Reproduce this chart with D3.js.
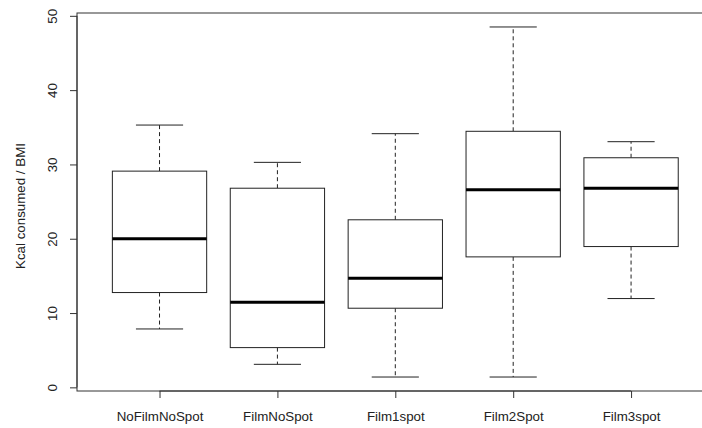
<!DOCTYPE html>
<html>
<head>
<meta charset="utf-8">
<script src="https://cdn.jsdelivr.net/npm/d3@7/dist/d3.min.js"></script>
<style>
  html, body { margin: 0; padding: 0; background: #fff; }
  svg { display: block; }
  text { font-family: "Liberation Sans", Arial, sans-serif; font-size: 13.33px; fill: #222; }
</style>
</head>
<body>
<svg id="chart" width="702" height="428"></svg>
<script>
const categories   = ["NoFilmNoSpot", "FilmNoSpot", "Film1spot", "Film2Spot", "Film3spot"];
const lowerWhisker = [7.86, 3.1, 1.39, 1.39, 11.95];
const q1           = [12.76, 5.35, 10.65, 17.56, 18.95];
const median       = [20.0, 11.46, 14.69, 26.6, 26.8];
const q3           = [29.1, 26.8, 22.55, 34.46, 30.9];
const upperWhisker = [35.3, 30.28, 34.14, 48.5, 33.06];
const yTicks       = [0, 10, 20, 30, 40, 50];
const yLabel       = "Kcal consumed / BMI";

const svg = d3.select("#chart");
const mLeft = 77, mRight = 713.6, mTop = 13, mBottom = 391;
const FONT = "'Liberation Sans', Arial, sans-serif";

const x = d3.scaleLinear().domain([0.3, 5.7]).range([mLeft, mRight]);
const y = d3.scaleLinear().domain([-0.49, 50.38]).range([mBottom, mTop]);

const boxW = x(1.4) - x(1);   // half width of box (0.4 units)
const capW = boxW / 2;

const data = categories.map((c, i) => ({
  c, pos: i + 1, lw: lowerWhisker[i], q1: q1[i], med: median[i], q3: q3[i], uw: upperWhisker[i]
}));

const g = svg.append("g");

// whiskers (dashed)
g.selectAll(".wu").data(data).enter().append("line")
  .attr("x1", d => x(d.pos)).attr("x2", d => x(d.pos))
  .attr("y1", d => y(d.q3)).attr("y2", d => y(d.uw))
  .attr("stroke", "#222").attr("stroke-dasharray", "4,3");
g.selectAll(".wl").data(data).enter().append("line")
  .attr("x1", d => x(d.pos)).attr("x2", d => x(d.pos))
  .attr("y1", d => y(d.q1)).attr("y2", d => y(d.lw))
  .attr("stroke", "#222").attr("stroke-dasharray", "4,3");
// caps
g.selectAll(".cu").data(data).enter().append("line")
  .attr("x1", d => x(d.pos) - capW).attr("x2", d => x(d.pos) + capW)
  .attr("y1", d => y(d.uw)).attr("y2", d => y(d.uw))
  .attr("stroke", "#222");
g.selectAll(".cl").data(data).enter().append("line")
  .attr("x1", d => x(d.pos) - capW).attr("x2", d => x(d.pos) + capW)
  .attr("y1", d => y(d.lw)).attr("y2", d => y(d.lw))
  .attr("stroke", "#222");
// boxes
g.selectAll(".box").data(data).enter().append("rect")
  .attr("x", d => x(d.pos) - boxW).attr("width", 2 * boxW)
  .attr("y", d => y(d.q3)).attr("height", d => y(d.q1) - y(d.q3))
  .attr("fill", "#fff").attr("stroke", "#222");
// medians
g.selectAll(".med").data(data).enter().append("line")
  .attr("x1", d => x(d.pos) - boxW).attr("x2", d => x(d.pos) + boxW)
  .attr("y1", d => y(d.med)).attr("y2", d => y(d.med))
  .attr("stroke", "#000").attr("stroke-width", 3);

// frame
svg.append("rect").attr("x", mLeft).attr("y", mTop)
  .attr("width", mRight - mLeft).attr("height", mBottom - mTop)
  .attr("fill", "none").attr("stroke", "#333");

// y axis
const yAxis = d3.axisLeft(y).tickValues(yTicks).tickSize(7).tickFormat(d3.format("d"));
const ya = svg.append("g").attr("transform", `translate(${mLeft},0)`).call(yAxis);
ya.select(".domain").attr("d", `M0,${y(0)}V${y(50)}`).attr("stroke", "#333");
ya.selectAll(".tick line").attr("stroke", "#333");
ya.selectAll(".tick text")
  .attr("transform", "rotate(-90)")
  .attr("x", 0).attr("y", -20).attr("dy", 0)
  .attr("text-anchor", "middle")
  .style("font-family", FONT).style("font-size", "13.33px").attr("fill", "#222");

// x axis
const xAxis = d3.axisBottom(x).tickValues(data.map(d => d.pos)).tickSize(7)
  .tickFormat((d, i) => categories[i]);
const xa = svg.append("g").attr("transform", `translate(0,${mBottom})`).call(xAxis);
xa.select(".domain").attr("d", `M${x(1)},0H${x(5)}`).attr("stroke", "#333");
xa.selectAll(".tick line").attr("stroke", "#333");
xa.selectAll(".tick text").attr("y", 30).attr("dy", 0)
  .style("font-family", FONT).style("font-size", "13.33px").attr("fill", "#222");

// y label
svg.append("text")
  .attr("transform", `translate(25,${(mTop + mBottom) / 2 + 4}) rotate(-90)`)
  .attr("text-anchor", "middle")
  .text(yLabel);
</script>
</body>
</html>
